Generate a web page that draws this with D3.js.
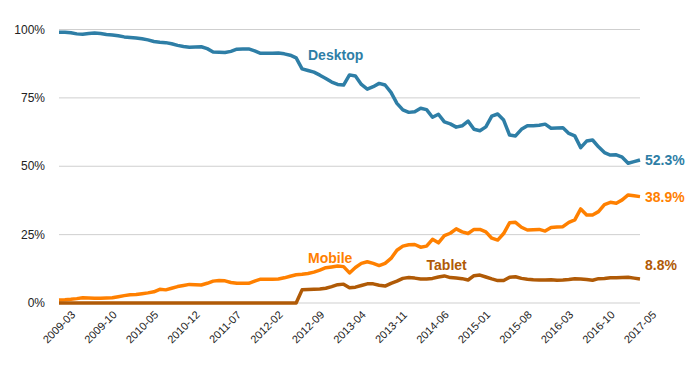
<!DOCTYPE html>
<html>
<head>
<meta charset="utf-8">
<script src="https://cdn.jsdelivr.net/npm/d3@7"></script>
<style>
  body { margin: 0; background: #fff; }
  svg { display: block; font-family: "Liberation Sans", Arial, Helvetica, sans-serif; }
</style>
</head>
<body>
<div id="chart"></div>
<script>
// data: monthly share (%) from 2009-03 to 2017-05
const startMonth = "2009-03", endMonth = "2017-05";
const desktop = [
  99.0, 99.0, 98.8, 98.4, 98.3, 98.5, 98.7, 98.5, 98.2, 98.0,
  97.7, 97.3, 97.1, 96.9, 96.6, 96.2, 95.6, 95.3, 95.2, 94.8,
  94.2, 93.8, 93.5, 93.6, 93.7, 93.0, 91.8, 91.7, 91.6, 92.0,
  92.8, 92.9, 92.9, 92.2, 91.3, 91.3, 91.3, 91.4, 91.1, 90.6,
  89.6, 85.6, 85.0, 84.4, 83.3, 82.1, 80.8, 79.9, 79.7, 83.4,
  83.0, 79.9, 78.2, 79.1, 80.3, 79.7, 77.0, 73.0, 70.6, 69.7,
  69.9, 71.2, 70.7, 67.9, 69.0, 66.2, 65.5, 64.3, 64.8, 66.5,
  63.5, 63.0, 64.4, 68.3, 69.1, 66.9, 61.4, 61.1, 63.5, 64.8,
  64.8, 65.0, 65.4, 63.9, 64.0, 64.1, 62.0, 61.1, 56.8, 59.2,
  59.6, 57.1, 55.0, 54.1, 54.2, 53.3, 51.1, 51.7, 52.3
];
const mobile = [
  1.1, 1.2, 1.35, 1.6, 1.9, 1.8, 1.7, 1.7, 1.8, 1.9,
  2.3, 2.7, 3.0, 3.1, 3.4, 3.7, 4.1, 5.0, 4.8, 5.4,
  6.0, 6.4, 6.8, 6.7, 6.6, 7.2, 8.0, 8.2, 8.1, 7.5,
  7.2, 7.2, 7.2, 8.0, 8.7, 8.7, 8.7, 8.8, 9.2, 9.8,
  10.3, 10.5, 10.8, 11.3, 12.0, 12.9, 13.2, 13.5, 13.3, 11.0,
  13.0, 14.5, 15.1, 14.5, 13.7, 14.5, 16.3, 19.3, 20.8, 21.3,
  21.4, 20.4, 20.8, 23.3, 22.0, 24.6, 25.5, 27.1, 26.0, 25.4,
  26.9, 26.9, 26.0, 23.7, 23.0, 25.4, 29.3, 29.5, 27.7, 26.7,
  26.8, 26.9, 26.3, 27.6, 27.8, 27.9, 29.5, 30.4, 34.4, 32.2,
  32.2, 33.4, 36.0, 36.8, 36.5, 37.7, 39.5, 39.2, 38.9
];
const tablet = [
  0, 0, 0, 0, 0, 0, 0, 0, 0, 0,
  0, 0, 0, 0, 0, 0, 0, 0, 0, 0,
  0, 0, 0, 0, 0, 0, 0, 0, 0, 0,
  0, 0, 0, 0, 0, 0, 0, 0, 0, 0,
  0, 4.8, 4.9, 5.0, 5.1, 5.4, 6.0, 6.7, 6.9, 5.6,
  5.8, 6.4, 7.0, 7.0, 6.5, 6.2, 7.2, 8.0, 9.0, 9.3,
  9.1, 8.8, 8.8, 9.0, 9.5, 9.9, 9.3, 9.1, 8.9, 8.4,
  10.0, 10.2, 9.5, 8.8, 8.2, 8.2, 9.4, 9.6, 9.0, 8.7,
  8.5, 8.4, 8.4, 8.5, 8.3, 8.4, 8.6, 8.9, 8.8, 8.6,
  8.3, 8.9, 9.0, 9.2, 9.2, 9.3, 9.4, 9.1, 8.8
];
const yTicks = [0, 25, 50, 75, 100];
const tickEvery = 7;

const seriesNames = ["Desktop", "Mobile", "Tablet"];
const seriesValues = [desktop, mobile, tablet];
const seriesColors = ["#2e7ea6", "#ff8000", "#b05a06"];
// name label anchors (month, value) and end-value labels
const nameLabelAt = [["2012-09", 90.7], ["2012-09", 16.5], ["2014-05", 13.9]];
const endLabelAt = [52.3, 38.9, 13.9];

// dimensions
const width = 700, height = 370;
const margin = {top: 29.5, right: 60, bottom: 67, left: 59};

const parseMonth = d3.timeParse("%Y-%m"), fmtMonth = d3.timeFormat("%Y-%m");
const months = d3.timeMonth.range(parseMonth(startMonth), d3.timeMonth.offset(parseMonth(endMonth), 1)).map(fmtMonth);

const x = d3.scalePoint().domain(months).range([margin.left, width - margin.right]);
const y = d3.scaleLinear().domain([0, 100]).range([height - margin.bottom, margin.top]);

const svg = d3.select("#chart").append("svg")
  .attr("width", width)
  .attr("height", height);

// gridlines
svg.append("g").selectAll("line")
  .data(yTicks)
  .join("line")
    .attr("x1", margin.left)
    .attr("x2", width - margin.right)
    .attr("y1", d => y(d))
    .attr("y2", d => y(d))
    .attr("stroke", "#cfcfcf")
    .attr("stroke-width", 1);

// y labels
svg.append("g").selectAll("text")
  .data(yTicks)
  .join("text")
    .attr("x", margin.left - 14)
    .attr("y", d => y(d))
    .attr("dy", "0.35em")
    .attr("text-anchor", "end")
    .attr("fill", "#222")
    .style("font-size", "12px")
    .text(d => d + "%");

// x labels, rotated
const xTicks = months.filter((m, i) => i % tickEvery === 0);
svg.append("g").selectAll("text")
  .data(xTicks)
  .join("text")
    .attr("transform", d => `translate(${x(d)},${height - margin.bottom + 24}) rotate(-45)`)
    .attr("text-anchor", "middle")
    .attr("dy", "0.35em")
    .attr("fill", "#222")
    .style("font-size", "11px")
    .text(d => d);

// lines
const line = d3.line()
  .x((d, i) => x(months[i]))
  .y(d => y(d));

seriesValues.forEach(function(vals, k){
  svg.append("path")
    .datum(vals)
    .attr("d", line)
    .attr("fill", "none")
    .attr("stroke", seriesColors[k])
    .attr("stroke-width", 3.5)
    .attr("stroke-linejoin", "round");

  svg.append("text")
    .attr("x", x(nameLabelAt[k][0]))
    .attr("y", y(nameLabelAt[k][1]))
    .attr("dy", "0.35em")
    .attr("fill", seriesColors[k])
    .style("font-size", "14px")
    .style("font-weight", "bold")
    .text(seriesNames[k]);

  const last = vals[vals.length - 1];
  svg.append("text")
    .attr("x", x(months[months.length - 1]) + 5)
    .attr("y", y(endLabelAt[k]))
    .attr("dy", "0.35em")
    .attr("fill", seriesColors[k])
    .style("font-size", "14px")
    .style("font-weight", "bold")
    .text(d3.format(".1f")(last) + "%");
});
</script>
</body>
</html>
